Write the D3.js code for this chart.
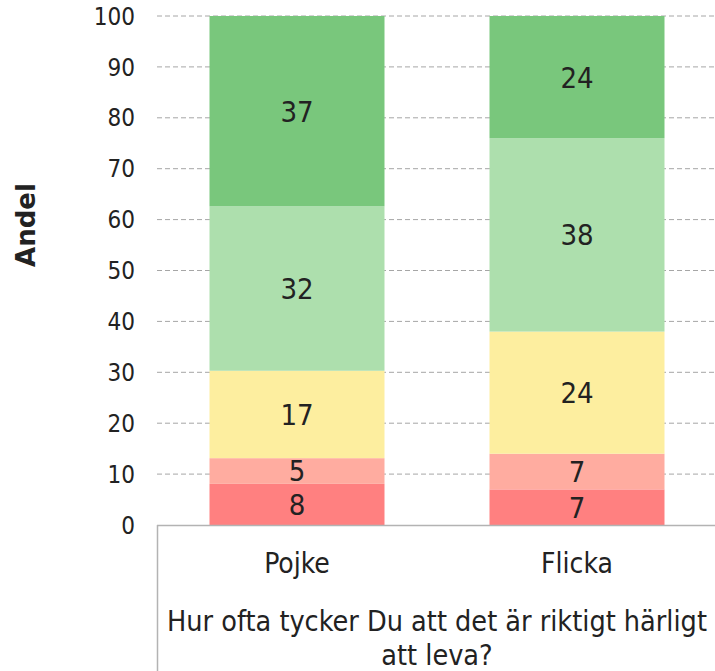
<!DOCTYPE html>
<html>
<head>
<meta charset="utf-8">
<script src="https://cdn.jsdelivr.net/npm/d3@7"></script>
<style>
  body { margin: 0; background: #fff; }
  text { font-family: "DejaVu Sans Condensed", "DejaVu Sans", Verdana, sans-serif; font-stretch: condensed; fill: #222; }
  text.ytitle { font-family: "DejaVu Sans", sans-serif; font-stretch: normal; }
</style>
</head>
<body>
<svg id="chart" width="715" height="671"></svg>
<script>
const categories = ["Pojke", "Flicka"];
const answers = ["a1", "a2", "a3", "a4", "a5"]; // bottom to top
const pojke = [8, 5, 17, 32, 37];
const flicka = [7, 7, 24, 38, 24];
const yTicks = [0, 10, 20, 30, 40, 50, 60, 70, 80, 90, 100];
const colors = ["#ff8080", "#ffaca0", "#fdee9f", "#addfad", "#79c77c"];

const margin = { top: 16, left: 157 };
const plotW = 560, plotH = 509;

const svg = d3.select("#chart");
const g = svg.append("g").attr("transform", `translate(${margin.left},${margin.top})`);

const x = d3.scaleBand().domain(categories).range([0, plotW]).paddingInner(0.375).paddingOuter(0.1875);
const y = d3.scaleLinear().domain([0, 100]).range([plotH, 0]);

// rows -> normalised to 100 like the original
const rows = [pojke, flicka].map((vals, i) => {
  const total = d3.sum(vals);
  const r = { cat: categories[i] };
  answers.forEach((a, j) => { r[a] = vals[j] / total * 100; r[a + "_raw"] = vals[j]; });
  return r;
});
const series = d3.stack().keys(answers)(rows);

// grid
g.selectAll("line.grid")
  .data(yTicks.filter(d => d > 0))
  .enter().append("line")
  .attr("class", "grid")
  .attr("x1", 0).attr("x2", plotW + 10)
  .attr("y1", d => y(d)).attr("y2", d => y(d))
  .attr("stroke", "#a6a6a6")
  .attr("stroke-dasharray", "5,3");

// y tick labels
g.selectAll("text.ytick")
  .data(yTicks)
  .enter().append("text")
  .attr("class", "ytick")
  .attr("x", -22)
  .attr("y", d => y(d))
  .attr("dy", "0.36em")
  .attr("text-anchor", "end")
  .style("font-size", "24px")
  .text(d => d);

// bars
const layer = g.selectAll("g.layer")
  .data(series)
  .enter().append("g")
  .attr("class", "layer")
  .attr("fill", (d, i) => colors[i]);

layer.selectAll("rect")
  .data(d => d)
  .enter().append("rect")
  .attr("x", d => x(d.data.cat))
  .attr("width", x.bandwidth())
  .attr("y", d => y(d[1]))
  .attr("height", d => y(d[0]) - y(d[1]));

layer.selectAll("text")
  .data(d => d.map(p => ({ p, key: d.key })))
  .enter().append("text")
  .attr("x", d => x(d.p.data.cat) + x.bandwidth() / 2)
  .attr("y", d => y((d.p[0] + d.p[1]) / 2))
  .attr("dy", "0.36em")
  .attr("text-anchor", "middle")
  .style("font-size", "29px")
  .text(d => d.p.data[d.key + "_raw"]);

// category axis box
g.append("line")
  .attr("x1", 0).attr("x2", plotW + 10)
  .attr("y1", plotH + 0.5).attr("y2", plotH + 0.5)
  .attr("stroke", "#b3b3b3").attr("stroke-width", 1.5);
g.append("line")
  .attr("x1", 0.5).attr("x2", 0.5)
  .attr("y1", plotH).attr("y2", 671)
  .attr("stroke", "#b3b3b3").attr("stroke-width", 1.5);

g.selectAll("text.cat")
  .data(categories)
  .enter().append("text")
  .attr("class", "cat")
  .attr("x", d => x(d) + x.bandwidth() / 2)
  .attr("y", plotH + 48)
  .attr("text-anchor", "middle")
  .style("font-size", "28px")
  .text(d => d);

const titleLines = ["Hur ofta tycker Du att det är riktigt härligt", "att leva?"];
g.selectAll("text.xtitle")
  .data(titleLines)
  .enter().append("text")
  .attr("class", "xtitle")
  .attr("x", plotW / 2)
  .attr("y", (d, i) => plotH + 106 + i * 34)
  .attr("text-anchor", "middle")
  .style("font-size", "28.5px")
  .text(d => d);

// y title
svg.append("text")
  .attr("class", "ytitle")
  .attr("transform", "translate(35,225) rotate(-90)")
  .attr("text-anchor", "middle")
  .style("font-size", "26px")
  .style("font-weight", "bold")
  .text("Andel");
</script>
</body>
</html>
